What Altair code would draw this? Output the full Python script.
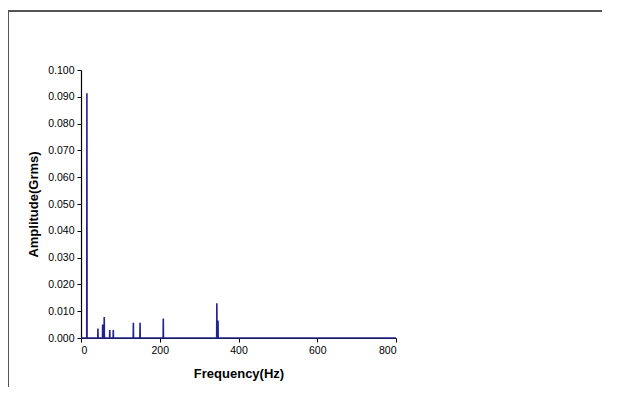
import altair as alt
import pandas as pd

# spectrum peaks
spike_freq = [15, 43, 55, 59, 73, 82, 133, 150, 209, 345, 348]
spike_amp = [0.0913, 0.0035, 0.0050, 0.0078, 0.0030, 0.0030, 0.0057, 0.0057, 0.0073, 0.0130, 0.0065]
x_ticks = [0, 200, 400, 600, 800]
y_ticks = [0.0, 0.01, 0.02, 0.03, 0.04, 0.05, 0.06, 0.07, 0.08, 0.09, 0.10]

rows = [(0, 0.0)]
for f, a in zip(spike_freq, spike_amp):
    rows += [(f - 0.4, 0.0), (f, a), (f + 0.4, 0.0)]
rows.append((800, 0.0))
df = pd.DataFrame(rows, columns=["freq", "amp"])
df["order"] = range(len(df))

navy = "#23238f"

line = alt.Chart(df).mark_line(color=navy, strokeWidth=1.6, clip=False).encode(
    x=alt.X("freq:Q", scale=alt.Scale(domain=[0, 800], nice=False),
            axis=alt.Axis(values=x_ticks, title="Frequency(Hz)", format="d",
                          titlePadding=12)),
    y=alt.Y("amp:Q", scale=alt.Scale(domain=[0, 0.1], nice=False),
            axis=alt.Axis(values=y_ticks, title="Amplitude(Grms)", format=".3f",
                          titlePadding=7)),
    order="order:Q",
)

one = pd.DataFrame({"a": [0]})
frame_top = alt.Chart(one).mark_rule(color="#555555", strokeWidth=2, clip=False).encode(
    x=alt.value(-74), x2=alt.value(521), y=alt.value(-59)
)
frame_left = alt.Chart(one).mark_rule(color="#555555", strokeWidth=2, clip=False).encode(
    x=alt.value(-73), y=alt.value(-60), y2=alt.value(400)
)

chart = alt.layer(frame_top, frame_left, line).properties(
    width=315, height=268,
    autosize=alt.AutoSizeParams(type="none"),
    padding={"left": 73, "top": 62, "right": 214, "bottom": 49},
).configure_view(stroke=None).configure_axis(
    domainColor="black", tickColor="black", grid=False,
    labelFont="Liberation Sans", labelFontSize=10.5, labelColor="black",
    titleFont="Liberation Sans", titleFontSize=13, titleFontWeight="bold",
    titleColor="black", tickSize=4, labelPadding=3, domainWidth=1.2,
)

chart.save("out.html", embed_options={"renderer": "svg", "actions": False})
